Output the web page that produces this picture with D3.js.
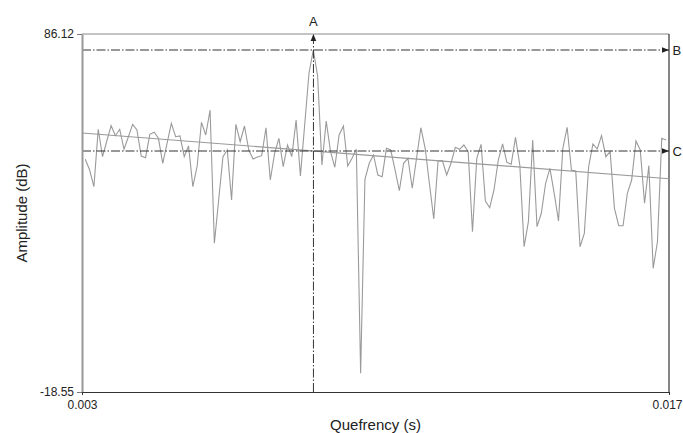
<!DOCTYPE html>
<html>
<head>
<meta charset="utf-8">
<script src="https://cdn.jsdelivr.net/npm/d3@7"></script>
<style>
  html, body { margin: 0; padding: 0; background: #fff; }
  svg { display: block; font-family: "Liberation Sans", Arial, Helvetica, sans-serif; }
</style>
</head>
<body>
<svg id="chart" width="683" height="433"></svg>
<script>
// ---- Data ----
const amplitude = [
  49.49, 46.36, 41.47, 58.26, 50.25, 54.84, 59.31, 56.39, 58.26, 52.41,
  56.01, 59.72, 58.05, 50.45, 49.95, 56.80, 57.38, 55.63, 48.32, 54.16,
  60.01, 56.09, 56.30, 50.25, 53.37, 41.47, 47.53, 60.30, 56.59, 63.90,
  24.93, 37.59, 50.25, 52.20, 37.59, 59.72, 54.63, 59.22, 52.20, 49.57,
  50.16, 50.54, 58.72, 43.43, 51.24, 55.63, 47.32, 53.67, 50.25, 60.98,
  44.60, 59.66, 74.72, 81.44, 73.84, 47.82, 60.68, 51.71, 47.15, 56.59,
  59.22, 47.53, 49.78, 52.41, -13.08, 43.64, 48.32, 50.74, 44.90, 44.40,
  52.70, 52.20, 46.36, 40.31, 48.32, 49.78, 41.01, 49.78, 58.72, 52.70,
  42.26, 32.03, 48.99, 49.08, 44.90, 48.32, 52.99, 52.41, 53.67, 51.71,
  28.32, 49.78, 53.87, 37.29, 35.34, 40.51, 49.28, 53.96, 48.61, 48.02,
  55.92, 47.82, 23.93, 31.24, 55.13, 29.78, 33.70, 42.47, 46.85, 39.55,
  31.45, 52.70, 58.84, 46.36, 46.07, 23.93, 27.85, 47.32, 53.96, 52.50,
  56.39, 50.25, 51.71, 35.16, 30.07, 30.07, 39.55, 43.43, 54.84, 52.20,
  36.62, 47.62, 17.62, 25.39, 55.63, 55.13
];
const qStart = 0.003079;      // quefrency of first sample (s)
const qStep = 0.0001026;      // sample spacing (s)
const quefrency = amplitude.map((_, i) => qStart + i * qStep);

const xDomain = [0.003, 0.017];
const yDomain = [-18.55, 86.12];
const xTickValues = [0.003, 0.017];
const yTickValues = [86.12, -18.55];

const trendQ = [0.003, 0.017];
const trendA = [57.18, 43.81];

const markerAQ = 0.00852;      // vertical marker A
const levelB = 81.44;           // horizontal marker B
const levelC = 51.91;           // horizontal marker C

// ---- Layout ----
const svg = d3.select("#chart");
const mLeft = 82, mRight = 669, mTop = 34, mBottom = 392;

const x = d3.scaleLinear().domain(xDomain).range([mLeft, mRight]);
const y = d3.scaleLinear().domain(yDomain).range([mBottom, mTop]);

const defs = svg.append("defs");
defs.append("marker")
  .attr("id", "arrow")
  .attr("viewBox", "0 -4 8 8")
  .attr("refX", 8).attr("refY", 0)
  .attr("markerWidth", 7).attr("markerHeight", 7)
  .attr("markerUnits", "userSpaceOnUse")
  .attr("orient", "auto")
  .append("path").attr("d", "M0,-3.2L8,0L0,3.2Z").attr("fill", "#222");

// frame: top (gray) and right (dark)
svg.append("line").attr("x1", mLeft).attr("x2", mRight).attr("y1", mTop).attr("y2", mTop)
  .attr("stroke", "#8a8a8a").attr("stroke-width", 1.2);
svg.append("line").attr("x1", mRight).attr("x2", mRight).attr("y1", mTop).attr("y2", mBottom)
  .attr("stroke", "#333").attr("stroke-width", 1.2);

// data line
const line = d3.line().x((d, i) => x(quefrency[i])).y(d => y(d));
svg.append("path").datum(amplitude)
  .attr("d", line)
  .attr("fill", "none")
  .attr("stroke", "#9a9a9a")
  .attr("stroke-width", 1.1)
  .attr("stroke-linejoin", "miter");

// trend line
svg.append("line")
  .attr("x1", x(trendQ[0])).attr("y1", y(trendA[0]))
  .attr("x2", x(trendQ[1])).attr("y2", y(trendA[1]))
  .attr("stroke", "#9a9a9a").attr("stroke-width", 1.1);

// dash-dot markers
const dash = "9,2,1.5,2";
svg.append("line")
  .attr("x1", x(markerAQ)).attr("x2", x(markerAQ))
  .attr("y1", mBottom).attr("y2", mTop)
  .attr("stroke", "#333").attr("stroke-width", 1).attr("stroke-dasharray", dash)
  .attr("marker-end", "url(#arrow)");
[levelB, levelC].forEach(v => {
  svg.append("line")
    .attr("x1", mLeft).attr("x2", mRight)
    .attr("y1", y(v)).attr("y2", y(v))
    .attr("stroke", "#333").attr("stroke-width", 1).attr("stroke-dasharray", dash)
    .attr("marker-end", "url(#arrow)");
});

// marker labels
svg.append("text").attr("x", x(markerAQ)).attr("y", 25.5)
  .attr("text-anchor", "middle").attr("font-size", 13).attr("fill", "#222").text("A");
svg.append("text").attr("x", 672.5).attr("y", y(levelB)).attr("dy", "0.36em")
  .attr("font-size", 13).attr("fill", "#222").text("B");
svg.append("text").attr("x", 672.5).attr("y", y(levelC)).attr("dy", "0.36em")
  .attr("font-size", 13).attr("fill", "#222").text("C");

// axes
const yAxis = d3.axisLeft(y).tickValues(yTickValues).tickFormat(d => d.toFixed(2))
  .tickSize(5).tickSizeOuter(0).tickPadding(3);
const gy = svg.append("g").attr("transform", `translate(${mLeft},0)`).call(yAxis);
gy.select(".domain").attr("stroke", "#999").attr("stroke-width", 2);
gy.selectAll(".tick line").attr("stroke", "#777");
gy.selectAll(".tick text").attr("font-size", 12).attr("fill", "#222")
  .attr("font-family", "Liberation Sans, Arial, sans-serif");

const xAxis = d3.axisBottom(x).tickValues(xTickValues).tickFormat(d => d.toFixed(3))
  .tickSize(3).tickSizeOuter(0).tickPadding(5.5);
const gx = svg.append("g").attr("transform", `translate(0,${mBottom})`).call(xAxis);
gx.select(".domain").attr("stroke", "#333").attr("stroke-width", 1.2);
gx.selectAll(".tick line").attr("stroke", "#333");
gx.selectAll(".tick text").attr("font-size", 12).attr("fill", "#222")
  .attr("font-family", "Liberation Sans, Arial, sans-serif");
// keep the right-most label inside the picture
gx.selectAll(".tick text").filter(d => d === xDomain[1])
  .attr("text-anchor", "end").attr("x", 682 - x(xDomain[1]));

// axis titles
svg.append("text").attr("x", (mLeft + mRight) / 2).attr("y", 430)
  .attr("text-anchor", "middle").attr("font-size", 15).attr("fill", "#222")
  .text("Quefrency (s)");
svg.append("text")
  .attr("transform", `translate(26.5,${(mTop + mBottom) / 2}) rotate(-90)`)
  .attr("text-anchor", "middle").attr("font-size", 15).attr("fill", "#222")
  .text("Amplitude (dB)");
</script>
</body>
</html>
